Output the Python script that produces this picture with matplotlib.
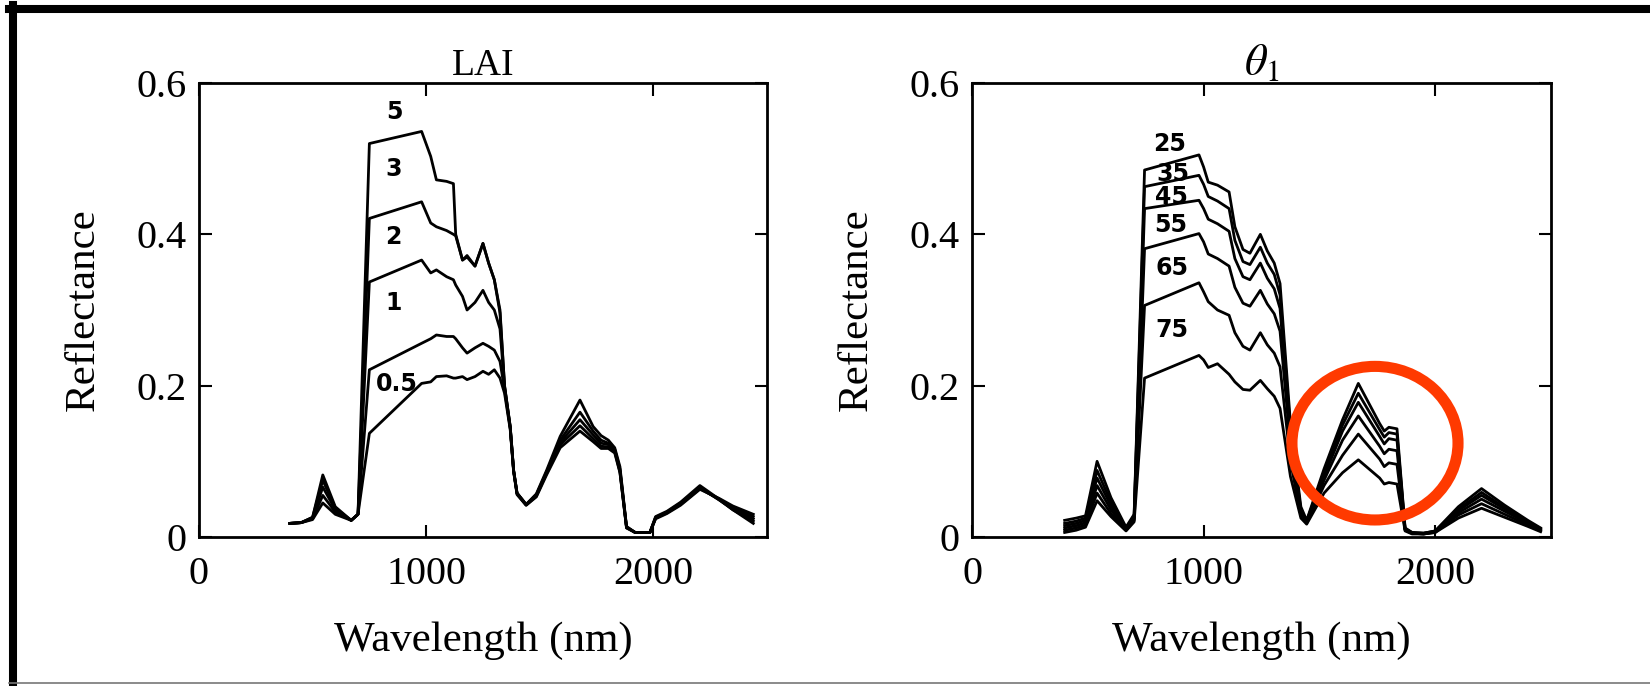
import matplotlib.pyplot as plt
from matplotlib.patches import Ellipse
from matplotlib.lines import Line2D

plt.rcParams['font.family'] = ['Liberation Serif', 'DejaVu Serif']
plt.rcParams['mathtext.fontset'] = 'stix'

# Left panel: reflectance for different LAI values
wl_lai = [400, 450, 500, 545, 600, 670, 700, 750, 980, 1020, 1045, 1090, 1120, 1130,
          1160, 1180, 1215, 1250, 1275, 1300, 1325, 1345, 1370, 1385, 1400, 1440,
          1485, 1530, 1590, 1677, 1735, 1770, 1802, 1830, 1853, 1882, 1920, 1985,
          2010, 2060, 2120, 2205, 2290, 2350, 2440]
lai_5 = [0.018, 0.019, 0.026, 0.082, 0.040, 0.022, 0.030, 0.520, 0.536, 0.503, 0.472, 0.470,
         0.467, 0.400, 0.366, 0.372, 0.358, 0.388, 0.362, 0.340, 0.300, 0.200, 0.146, 0.088,
         0.058, 0.043, 0.057, 0.088, 0.133, 0.181, 0.146, 0.134, 0.128, 0.118, 0.093, 0.014,
         0.006, 0.006, 0.027, 0.034, 0.046, 0.068, 0.050, 0.036, 0.018]
lai_3 = [0.018, 0.019, 0.026, 0.075, 0.038, 0.022, 0.030, 0.421, 0.443, 0.415, 0.410, 0.405,
         0.400, 0.398, 0.366, 0.370, 0.358, 0.388, 0.362, 0.340, 0.296, 0.200, 0.146, 0.088,
         0.058, 0.043, 0.056, 0.086, 0.128, 0.165, 0.140, 0.128, 0.124, 0.116, 0.090, 0.013,
         0.006, 0.006, 0.026, 0.033, 0.045, 0.066, 0.049, 0.036, 0.021]
lai_2 = [0.018, 0.019, 0.025, 0.066, 0.036, 0.022, 0.030, 0.337, 0.366, 0.349, 0.353, 0.344,
         0.340, 0.333, 0.318, 0.300, 0.310, 0.326, 0.310, 0.300, 0.275, 0.198, 0.145, 0.088,
         0.058, 0.043, 0.055, 0.085, 0.125, 0.155, 0.135, 0.124, 0.122, 0.115, 0.088, 0.013,
         0.006, 0.006, 0.025, 0.032, 0.044, 0.065, 0.049, 0.037, 0.024]
lai_1 = [0.018, 0.019, 0.024, 0.055, 0.033, 0.022, 0.030, 0.221, 0.256, 0.262, 0.267, 0.265,
         0.265, 0.262, 0.250, 0.243, 0.250, 0.256, 0.252, 0.247, 0.232, 0.195, 0.144, 0.087,
         0.057, 0.042, 0.054, 0.084, 0.122, 0.147, 0.130, 0.120, 0.119, 0.113, 0.086, 0.012,
         0.006, 0.006, 0.025, 0.032, 0.043, 0.064, 0.050, 0.039, 0.027]
lai_05 = [0.018, 0.019, 0.023, 0.045, 0.030, 0.022, 0.030, 0.137, 0.203, 0.205, 0.212, 0.213,
          0.210, 0.210, 0.212, 0.208, 0.212, 0.219, 0.215, 0.221, 0.210, 0.190, 0.142, 0.086,
          0.056, 0.042, 0.053, 0.082, 0.118, 0.140, 0.126, 0.117, 0.117, 0.111, 0.085, 0.012,
          0.006, 0.006, 0.024, 0.031, 0.042, 0.063, 0.051, 0.041, 0.030]
lai_curves = [lai_5, lai_3, lai_2, lai_1, lai_05]
lai_text = ['5', '3', '2', '1', '0.5']
lai_text_x = [860, 855, 855, 855, 872]
lai_text_y = [0.562, 0.487, 0.397, 0.309, 0.202]

# Right panel: reflectance for different theta_1 values
wl_theta = [400, 450, 490, 540, 600, 665, 700, 745, 980, 1000, 1020, 1060, 1110, 1135, 1170,
            1200, 1245, 1275, 1305, 1330, 1375, 1420, 1445, 1520, 1600, 1668, 1760, 1780,
            1800, 1835, 1870, 1900, 1950, 2000, 2100, 2200, 2300, 2400, 2455]
theta_25 = [0.022, 0.025, 0.028, 0.100, 0.052, 0.013, 0.030,
            0.485, 0.505, 0.489, 0.469, 0.465, 0.456, 0.410, 0.380, 0.375, 0.400, 0.378,
            0.362, 0.335, 0.150, 0.040,
            0.022, 0.090, 0.155, 0.203, 0.150, 0.140, 0.145, 0.143, 0.012, 0.006, 0.005,
            0.008, 0.040, 0.064, 0.042, 0.022, 0.012]
theta_35 = [0.018, 0.021, 0.025, 0.088, 0.046, 0.012, 0.028,
            0.463, 0.478, 0.466, 0.450, 0.444, 0.434, 0.392, 0.364, 0.360, 0.383, 0.362,
            0.347, 0.320, 0.140, 0.036,
            0.021, 0.085, 0.148, 0.190, 0.142, 0.132, 0.138, 0.136, 0.011, 0.006, 0.005,
            0.008, 0.037, 0.059, 0.039, 0.020, 0.011]
theta_45 = [0.015, 0.018, 0.022, 0.078, 0.041, 0.011, 0.026,
            0.434, 0.445, 0.434, 0.420, 0.414, 0.404, 0.368, 0.344, 0.340, 0.362, 0.342,
            0.328, 0.302, 0.130, 0.033,
            0.020, 0.080, 0.140, 0.178, 0.133, 0.123, 0.130, 0.128, 0.010, 0.005, 0.005,
            0.007, 0.035, 0.055, 0.037, 0.019, 0.010]
theta_55 = [0.012, 0.015, 0.019, 0.068, 0.036, 0.010, 0.024,
            0.381, 0.401, 0.390, 0.374, 0.368, 0.358, 0.330, 0.309, 0.305, 0.326, 0.308,
            0.295, 0.272, 0.120, 0.030,
            0.019, 0.075, 0.128, 0.160, 0.120, 0.110, 0.116, 0.114, 0.010, 0.005, 0.004,
            0.007, 0.032, 0.050, 0.034, 0.018, 0.009]
theta_65 = [0.009, 0.012, 0.016, 0.058, 0.031, 0.009, 0.022,
            0.306, 0.336, 0.324, 0.311, 0.300, 0.293, 0.270, 0.252, 0.247, 0.270, 0.254,
            0.243, 0.225, 0.100, 0.028,
            0.018, 0.068, 0.108, 0.136, 0.103, 0.093, 0.098, 0.096, 0.009, 0.005, 0.004,
            0.006, 0.029, 0.044, 0.030, 0.016, 0.008]
theta_75 = [0.006, 0.009, 0.013, 0.048, 0.027, 0.008, 0.020,
            0.210, 0.240, 0.234, 0.224, 0.229, 0.215, 0.205, 0.195, 0.194, 0.207, 0.196,
            0.186, 0.170, 0.080, 0.025,
            0.017, 0.058, 0.085, 0.102, 0.078, 0.070, 0.072, 0.070, 0.008, 0.004, 0.004,
            0.006, 0.025, 0.038, 0.026, 0.014, 0.007]
theta_curves = [theta_25, theta_35, theta_45, theta_55, theta_65, theta_75]
theta_text = ['25', '35', '45', '55', '65', '75']
theta_text_x = [855, 868, 860, 860, 865, 865]
theta_text_y = [0.520, 0.480, 0.450, 0.412, 0.355, 0.273]


def style_axes(ax, title, title_size):
    ax.set_xlim(0, 2500)
    ax.set_ylim(0, 0.6)
    ax.set_xticks([0, 1000, 2000])
    ax.set_yticks([0, 0.2, 0.4, 0.6])
    ax.set_yticklabels(['0', '0.2', '0.4', '0.6'])
    ax.tick_params(direction='in', top=True, right=True, length=9, width=1.5, labelsize=29)
    ax.tick_params(axis='x', pad=14)
    ax.tick_params(axis='y', pad=9)
    for s in ax.spines.values():
        s.set_linewidth(2)
    ax.set_xlabel('Wavelength (nm)', fontsize=31, labelpad=20)
    ax.set_ylabel('Reflectance', fontsize=31, labelpad=24)
    ax.set_title(title, fontsize=title_size, pad=6)


fig = plt.figure(figsize=(16.5, 6.86), dpi=100)
ax1 = fig.add_axes([0.1206, 0.2172, 0.3442, 0.6618])
ax2 = fig.add_axes([0.5891, 0.2172, 0.3509, 0.6618])

for refl in lai_curves:
    ax1.plot(wl_lai, refl, color='black', lw=2.0)
for t, x, y in zip(lai_text, lai_text_x, lai_text_y):
    ax1.text(x, y, t, ha='center', va='center', fontsize=17, fontweight='bold',
             family='DejaVu Sans')
style_axes(ax1, 'LAI', 27)

for refl in theta_curves:
    ax2.plot(wl_theta, refl, color='black', lw=2.0)
for t, x, y in zip(theta_text, theta_text_x, theta_text_y):
    ax2.text(x, y, t, ha='center', va='center', fontsize=17, fontweight='bold',
             family='DejaVu Sans')
style_axes(ax2, r'$\theta_1$', 32)

# red highlight circle around the SWIR peak
ax2.add_patch(Ellipse((1740, 0.124), width=717, height=0.203, fill=False,
                      ec='#ff3a00', lw=8, clip_on=False, zorder=5))

# page frame
fig.add_artist(Line2D([9 / 1650, 1], [1 - 9 / 686, 1 - 9 / 686], color='black', lw=5.8))
fig.add_artist(Line2D([13 / 1650, 13 / 1650], [0, 1 - 5 / 686], color='black', lw=5.8))
fig.add_artist(Line2D([9 / 1650, 1], [3 / 686, 3 / 686], color='#777777', lw=1.2))

fig.savefig('out.png', dpi=100)
